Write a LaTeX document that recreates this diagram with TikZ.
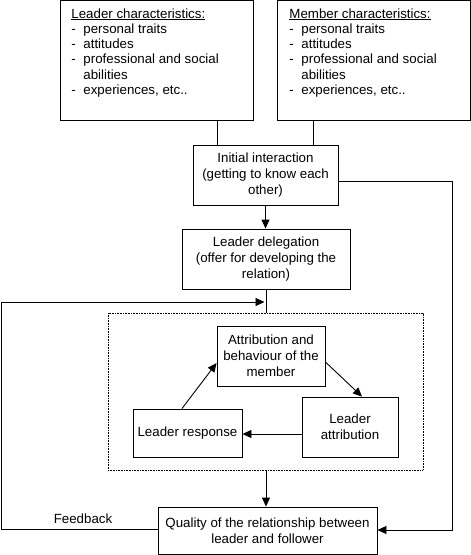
\documentclass[tikz,border=0pt]{standalone}
\usepackage{fontspec}
\setmainfont{Liberation Sans}
\usetikzlibrary{arrows.meta,calc}
\newcommand\dashitem{\makebox[12pt][l]{-}}
\begin{document}
\begin{tikzpicture}[x=1pt,y=-1pt, line width=0.9pt,
  box/.style={draw, rectangle, inner sep=0pt, align=center, font=\fontsize{13.3}{16}\selectfont},
  txt/.style={inner sep=0pt, align=left, font=\fontsize{13.3}{15.3}\selectfont},
  arr/.style={-{Triangle[length=9pt,width=8pt]}},
  loopbox/.style={draw, dash pattern=on 0.8pt off 0.8pt, line width=0.8pt, rectangle, inner sep=0pt}
  ]
\useasboundingbox (0,0) rectangle (471,555);
% top boxes
\node[draw, rectangle, inner sep=0pt, minimum width=193pt, minimum height=119.5pt] (lc) at (156.5,60.25) {};
\node[draw, rectangle, inner sep=0pt, minimum width=193pt, minimum height=119.5pt] (mc) at (373.5,60.25) {};
\node[txt, anchor=north west] (lct) at (71,8) {\underline{Leader characteristics:}\\ \dashitem personal traits\\ \dashitem attitudes\\ \dashitem professional and social\\ \hspace*{12pt}abilities\\ \dashitem experiences, etc..};
\node[txt, anchor=north west] (mct) at (289,8) {\underline{Member characteristics:}\\ \dashitem personal traits\\ \dashitem attitudes\\ \dashitem professional and social\\ \hspace*{12pt}abilities\\ \dashitem experiences, etc..};
% main boxes
\node[box, minimum width=145pt, minimum height=60pt] (ii) at (265.5,175) {Initial interaction\\(getting to know each\\other)};
\node[box, minimum width=168pt, minimum height=60pt] (ld) at (266,259) {Leader delegation\\(offer for developing the\\relation)};
\node[loopbox, minimum width=315pt, minimum height=157pt] (loop) at (265.5,391.5) {};
\node[box, minimum width=108pt, minimum height=60pt] (ab) at (271,356) {Attribution and\\behaviour of the\\member};
\node[box, minimum width=96pt, minimum height=60pt] (la) at (350,427) {Leader\\attribution};
\node[box, minimum width=109pt, minimum height=48pt] (lr) at (187.5,433) {Leader response};
\node[box, minimum width=219pt, minimum height=47pt] (q) at (267.5,530.5) {Quality of the relationship between\\leader and follower};
\node[txt] (fb) at (83,519) {Feedback};
% helper coordinates
\coordinate (cl) at (217,0);
\coordinate (cm) at (313,0);
\coordinate (fbtop) at (1,302);
\coordinate (fbbot) at (1,529);
\coordinate (rtop) at (452,181);
\coordinate (rbot) at (452,530);
% connectors
\draw (lc.south -| cl) -- (ii.north -| cl);
\draw (mc.south -| cm) -- (ii.north -| cm);
\draw[arr] (ii.south) -- (ii.south |- ld.north);
\draw (ld.south) -- (ld.south |- loop.north);
\draw[arr] (q.west |- fbbot) -- (fbbot) -- (fbtop) -- ($(ld.south |- fbtop)+(-1.5,0)$);
\draw[arr] (ii.east |- rtop) -- (rtop) -- (rbot) -- (q.east |- rbot);
\draw[arr] ($(ab.east)+(0,6)$) -- ($(la.north)+(12,0)$);
\draw[arr] ($(la.west)+(0,7)$) -- ($(lr.east)+(0,1)$);
\draw[arr] ($(lr.north)+(-5.5,0)$) -- ($(ab.west)+(0,7)$);
\draw[arr] (loop.south -| ld.south) -- (ld.south |- q.north);
\end{tikzpicture}
\end{document}
